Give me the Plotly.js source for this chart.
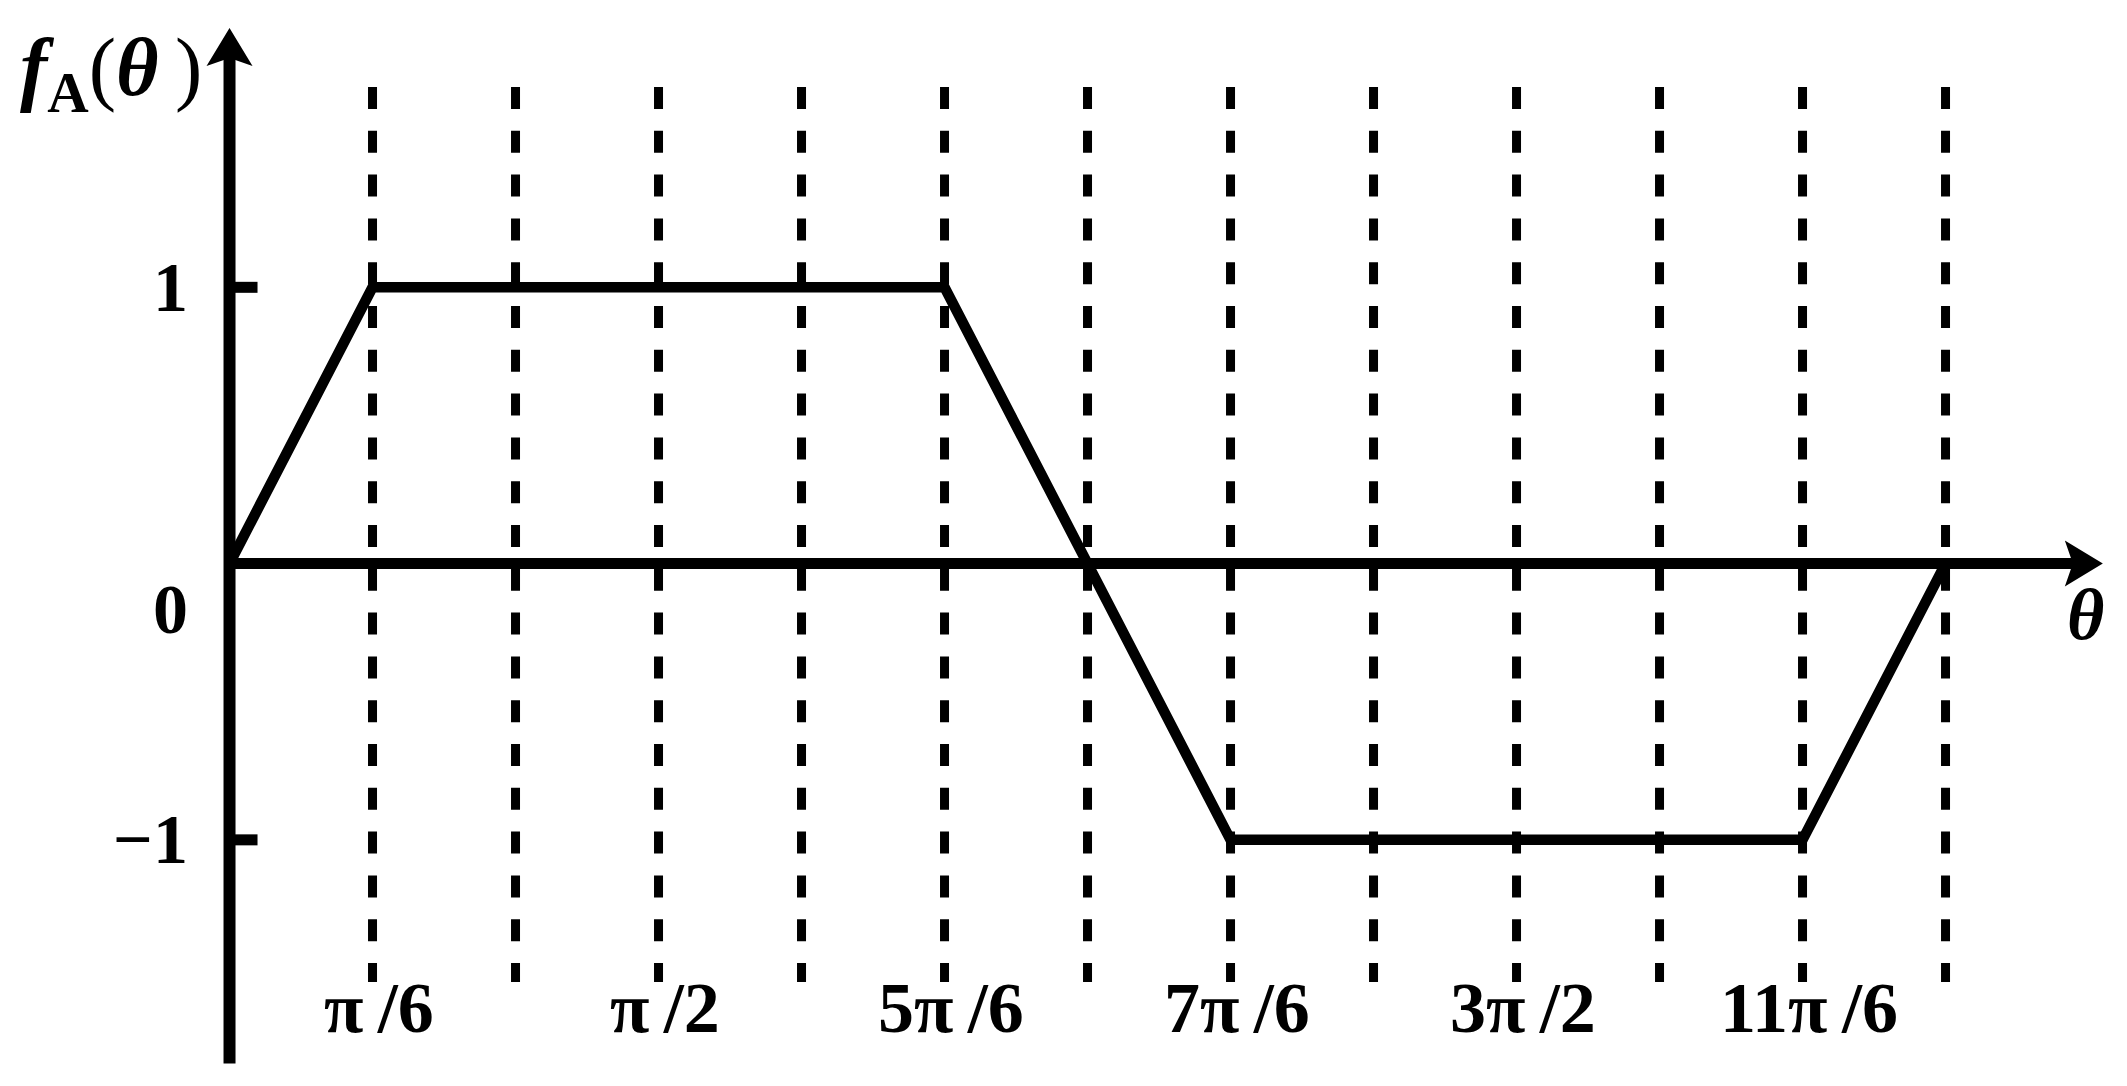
<!DOCTYPE html>
<html>
<head>
<meta charset="utf-8">
<script src="https://cdn.plot.ly/plotly-3.0.1.min.js"></script>
<style>
  html, body { margin: 0; padding: 0; background: #fff; }
  #chart { width: 2127px; height: 1086px; }
</style>
</head>
<body>
<div id="chart"></div>
<script>
// --- Data (theta in units of pi/6) ---
const thetaSteps = [0, 1, 5, 7, 11, 12];
const fValues = [0, 1, 1, -1, -1, 0];
const gridSteps = [1, 2, 3, 4, 5, 6, 7, 8, 9, 10, 11, 12];
const tickSteps = [1, 3, 5, 7, 9, 11];
const tickLabels = ['π\u2009/6', 'π\u2009/2', '5π\u2009/6', '7π\u2009/6', '3π\u2009/2', '11π\u2009/6'];
const yTickVals = [1, -1];
const yLabelVals = [1, 0, -1];
const yLabelText = ['1', '0', '−1'];

// --- Layout constants ---
const W = 2127, H = 1086;
const xRange = [-1.605, 13.269];
const yRange = [-1.891, 2.040];
const gridTop = 1.725, gridBottom = -1.515;
const FONT = '"Liberation Serif", "Times New Roman", serif';

// dashed vertical guides, drawn top-down so the dash pattern starts at the top
const gridTraces = gridSteps.map(g => ({
    x: [g, g],
    y: [gridTop, gridBottom],
    type: 'scatter',
    mode: 'lines',
    line: { color: '#000', width: 9, dash: '22px,21.8px' },
    hoverinfo: 'skip'
}));

const curve = {
    x: thetaSteps,
    y: fValues,
    type: 'scatter',
    mode: 'lines',
    line: { color: '#000', width: 10.5 },
    hoverinfo: 'skip'
};

// axes with arrowheads
const shapes = [
    { type: 'line', xref: 'x', yref: 'y', x0: 0, x1: 0, y0: -1.81, y1: 1.85,
      line: { color: '#000', width: 12 }, layer: 'above' },
    { type: 'line', xref: 'x', yref: 'y', x0: 0, x1: 12.95, y0: 0, y1: 0,
      line: { color: '#000', width: 11 }, layer: 'above' },
    { type: 'path', xref: 'x', yref: 'y', xsizemode: 'pixel', ysizemode: 'pixel',
      xanchor: 0, yanchor: 1.939, path: 'M0,0 L-23,-38 L0,-30 L23,-38 Z',
      fillcolor: '#000', line: { width: 0 }, layer: 'above' },
    { type: 'path', xref: 'x', yref: 'y', xsizemode: 'pixel', ysizemode: 'pixel',
      xanchor: 13.10, yanchor: 0, path: 'M0,0 L-38,23 L-30,0 L-38,-23 Z',
      fillcolor: '#000', line: { width: 0 }, layer: 'above' }
];
yTickVals.forEach(v => {
    shapes.push({ type: 'line', xref: 'x', yref: 'y', xsizemode: 'pixel', xanchor: 0,
        x0: 0, x1: 28, y0: v, y1: v, line: { color: '#000', width: 11 }, layer: 'above' });
});

const annotations = [];
tickSteps.forEach((s, i) => {
    annotations.push({ x: s, y: 1 - 1008 / H, xref: 'x', yref: 'paper', text: tickLabels[i],
        showarrow: false, xanchor: 'center', yanchor: 'middle', xshift: 6,
        font: { family: FONT, size: 72, color: '#000', weight: 'bold' } });
});
yLabelVals.forEach((v, i) => {
    annotations.push({ x: 0, y: v, xref: 'x', yref: 'y', text: yLabelText[i],
        showarrow: false, xanchor: 'right', yanchor: 'middle', xshift: -40,
        yshift: v === 0 ? -46 : 0,
        font: { family: FONT, size: 70, color: '#000', weight: 'bold' } });
});
// axis titles
annotations.push({ x: 111 / W, y: 1 - 73 / H, xref: 'paper', yref: 'paper',
    text: '<b><i>f</i></b><sub><b>A</b></sub>(<b><i>θ</i></b>\u2009)',
    showarrow: false, xanchor: 'center', yanchor: 'middle',
    font: { family: FONT, size: 82, color: '#000' } });
annotations.push({ x: 2085 / W, y: 1 - 615 / H, xref: 'paper', yref: 'paper',
    text: '<b><i>θ</i></b>', showarrow: false, xanchor: 'center', yanchor: 'middle',
    font: { family: FONT, size: 72, color: '#000' } });

const layout = {
    width: W, height: H,
    margin: { l: 0, r: 0, t: 0, b: 0, pad: 0 },
    paper_bgcolor: '#fff', plot_bgcolor: '#fff',
    showlegend: false,
    xaxis: { range: xRange, visible: false, fixedrange: true },
    yaxis: { range: yRange, visible: false, fixedrange: true },
    shapes: shapes,
    annotations: annotations
};

Plotly.newPlot('chart', gridTraces.concat([curve]), layout, { staticPlot: true, displayModeBar: false });
</script>
</body>
</html>
